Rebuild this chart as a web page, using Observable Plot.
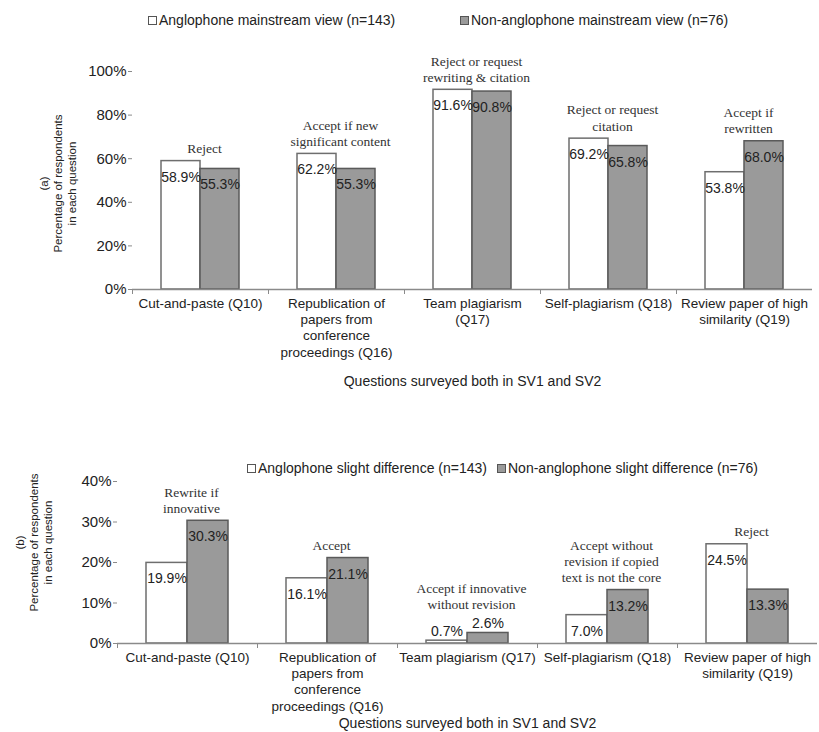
<!DOCTYPE html>
<html><head><meta charset="utf-8">
<script src="https://cdn.jsdelivr.net/npm/d3@7"></script>
<script src="https://cdn.jsdelivr.net/npm/@observablehq/plot@0.6"></script>
<style>
html,body{margin:0;padding:0;background:#fff;}
#wrap{position:relative;width:819px;height:732px;overflow:hidden;font-family:"Liberation Sans",Arial,sans-serif;color:#222;}
#top,#bottom{position:absolute;left:0;}
#top{top:0}
#bottom{top:400px}
.legend{position:absolute;font-size:14px;line-height:16px;white-space:nowrap;display:flex;align-items:center;}
.sw{display:inline-block;width:7px;height:7px;border:1px solid #555;margin-right:2px;}
</style></head><body>
<div id="wrap">
<div id="top"></div><div id="bottom"></div>
</div>
<script>
// ---- data ----
const categories = ["Cut-and-paste (Q10)", "Republication of papers from conference proceedings (Q16)", "Team plagiarism (Q17)", "Self-plagiarism (Q18)", "Review paper of high similarity (Q19)"];
const tickLabelsTop = ["Cut-and-paste (Q10)", "Republication of\npapers from\nconference\nproceedings (Q16)", "Team plagiarism\n(Q17)", "Self-plagiarism (Q18)", "Review paper of high\nsimilarity (Q19)"];
const tickLabelsBottom = ["Cut-and-paste (Q10)", "Republication of\npapers from\nconference\nproceedings (Q16)", "Team plagiarism (Q17)", "Self-plagiarism (Q18)", "Review paper of high\nsimilarity (Q19)"];

const seriesMainstream = ["Anglophone mainstream view (n=143)", "Non-anglophone mainstream view (n=76)"];
const anglophoneMainstream = [58.9, 62.2, 91.6, 69.2, 53.8];
const nonAnglophoneMainstream = [55.3, 55.3, 90.8, 65.8, 68.0];
const mainstreamViews = ["Reject", "Accept if new\nsignificant content", "Reject or request\nrewriting & citation", "Reject or request\ncitation", "Accept if\nrewritten"];

const seriesSlight = ["Anglophone slight difference (n=143)", "Non-anglophone slight difference (n=76)"];
const anglophoneSlight = [19.9, 16.1, 0.7, 7.0, 24.5];
const nonAnglophoneSlight = [30.3, 21.1, 2.6, 13.2, 13.3];
const slightViews = ["Rewrite if\ninnovative", "Accept", "Accept if innovative\nwithout revision", "Accept without\nrevision if copied\ntext is not the core", "Reject"];

const yTicksTop = [0, 20, 40, 60, 80, 100];
const yTicksBottom = [0, 10, 20, 30, 40];
const xTitle = "Questions surveyed both in SV1 and SV2";
const yTitleTop = "(a)\nPercentage of respondents\nin each question";
const yTitleBottom = "(b)\nPercentage of respondents\nin each question";

// ---- styles ----
const sans = "'Liberation Sans', Arial, sans-serif";
const serif = "'Liberation Serif', 'Times New Roman', serif";
const axisGrey = "#8a8a8a";
const textCol = "#222";
const fillA = "#ffffff", strokeA = "#6e6e6e";
const fillB = "#9a9a9a", strokeB = "#5a5a5a";

function panel(o) {
  const W = 819;
  const step = (W - o.marginLeft - o.marginRight) / categories.length;
  const half = step / 2;
  const rowsA = categories.map((c, i) => ({cat: c, v: o.a[i]}));
  const rowsB = categories.map((c, i) => ({cat: c, v: o.b[i]}));
  const notes = categories.map((c, i) => ({cat: c, top: Math.max(o.a[i], o.b[i]), note: o.views[i]}));
  const fmt = d => d.v.toFixed(1) + "%";
  const big = d => d.v >= 5, small = d => d.v < 5;
  const noteOpts = {x: "cat", y: "top", text: "note", lineAnchor: "bottom", dx: 4, fontFamily: serif, fontSize: 13.5, lineHeight: 1.2, fill: "#333"};
  return Plot.plot({
    width: W, height: o.height,
    marginTop: o.marginTop, marginBottom: o.marginBottom, marginLeft: o.marginLeft, marginRight: o.marginRight,
    style: {fontFamily: sans, fontSize: "13.5px", color: textCol, background: "#fff", overflow: "visible"},
    x: {domain: categories, padding: 0, label: null},
    y: {domain: [0, o.yMax], label: null},
    marks: [
      Plot.barY(rowsA, {x: "cat", y: "v", fill: fillA, stroke: strokeA, strokeWidth: 1.5, insetLeft: half - o.barW, insetRight: half}),
      Plot.barY(rowsB, {x: "cat", y: "v", fill: fillB, stroke: strokeB, strokeWidth: 1.5, insetLeft: half, insetRight: half - o.barW}),
      Plot.ruleY([0], {stroke: axisGrey, strokeWidth: 1.5}),
      Plot.axisY({ticks: o.yTicks, tickFormat: d => d + "%", tickSize: 4, tickPadding: 2, line: true, stroke: axisGrey, fill: textCol, fontSize: 15, label: null}),
      Plot.axisX({tickSize: 0, tickPadding: 7, tickFormat: d => o.tickLabels[categories.indexOf(d)], lineHeight: 1.2, fill: textCol, fontSize: 13.5, label: null}),
      Plot.axisX({tickSize: 5, tickFormat: () => "", dx: -half, stroke: axisGrey, label: null}),
      Plot.text(rowsA.filter(big), {x: "cat", y: "v", text: fmt, dx: -o.barW / 2, dy: 16, fontSize: 14, fill: textCol}),
      Plot.text(rowsB.filter(big), {x: "cat", y: "v", text: fmt, dx: o.barW / 2, dy: 16, fontSize: 14, fill: textCol}),
      Plot.text(rowsA.filter(small), {x: "cat", y: "v", text: fmt, dx: -o.barW / 2, dy: -9, fontSize: 14, fill: textCol}),
      Plot.text(rowsB.filter(small), {x: "cat", y: "v", text: fmt, dx: o.barW / 2, dy: -9, fontSize: 14, fill: textCol}),
      Plot.text(notes.filter(d => d.top >= 5), {...noteOpts, dy: -8}),
      Plot.text(notes.filter(d => d.top < 5), {...noteOpts, dy: -24}),
      Plot.text([o.yTitle], {text: d => d, frameAnchor: "left", textAnchor: "middle", lineAnchor: "middle", rotate: -90, dx: o.yTitleDx, dy: o.yTitleDy, fontSize: 11.5, lineHeight: 1.2, fill: textCol}),
      Plot.text([xTitle], {text: d => d, frameAnchor: "bottom", lineAnchor: "middle", dy: o.xTitleDy, fontSize: 14, fill: textCol})
    ]
  });
}

function legend(series, fills, left, top) {
  const wrap = document.getElementById("wrap");
  series.forEach((s, i) => {
    const el = document.createElement("div");
    el.className = "legend";
    el.style.left = left[i] + "px";
    el.style.top = top + "px";
    const sw = document.createElement("span");
    sw.className = "sw";
    sw.style.background = fills[i];
    el.appendChild(sw);
    el.appendChild(document.createTextNode(s));
    wrap.appendChild(el);
  });
}

document.getElementById("top").appendChild(panel({
  a: anglophoneMainstream, b: nonAnglophoneMainstream, views: mainstreamViews, tickLabels: tickLabelsTop,
  yMax: 100, yTicks: yTicksTop, yTitle: yTitleTop,
  height: 400, marginTop: 71, marginBottom: 111, marginLeft: 132, marginRight: 7, barW: 39,
  yTitleDx: -75, yTitleDy: 3, xTitleDy: 92
}));
document.getElementById("bottom").appendChild(panel({
  a: anglophoneSlight, b: nonAnglophoneSlight, views: slightViews, tickLabels: tickLabelsBottom,
  yMax: 40, yTicks: yTicksBottom, yTitle: yTitleBottom,
  height: 332, marginTop: 81, marginBottom: 89, marginLeft: 117, marginRight: 2, barW: 41,
  yTitleDx: -84, yTitleDy: -20, xTitleDy: 80
}));
legend(seriesMainstream, [fillA, fillB], [148, 460], 12);
legend(seriesSlight, [fillA, fillB], [247, 497], 460);
</script>
</body></html>
